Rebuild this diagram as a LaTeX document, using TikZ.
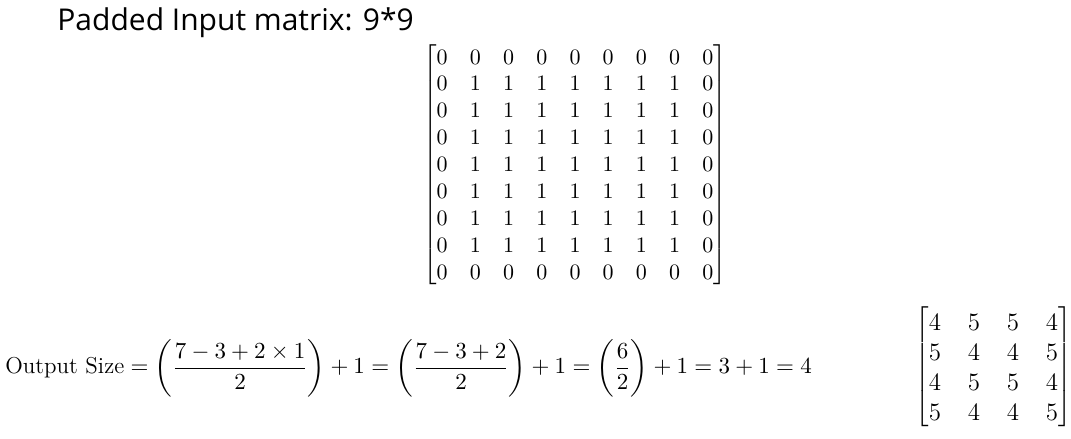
\RequirePackage{fix-cm}
\documentclass[tikz,border=0pt]{standalone}
\usepackage{amsmath}
\usepackage{fontspec}
\newfontfamily\titlefont{Open Sans}
\usetikzlibrary{matrix}

\begin{document}
\begin{tikzpicture}[x=0.5pt,y=-0.5pt,
		entry/.style={inner sep=0pt,text width=5.5pt,align=center,text height=7.1pt,text depth=0pt,font=\fontsize{11}{13}\selectfont},
		bigentry/.style={inner sep=0pt,text width=6.25pt,align=center,text height=8.05pt,text depth=0pt,font=\fontsize{12.5}{15}\selectfont},
		every left delimiter/.style={xshift=1.5pt},
		every right delimiter/.style={xshift=-1.5pt}]
		\useasboundingbox (0,0) rectangle (1071,439);
		\node[anchor=base west,inner sep=0pt,font=\titlefont\fontsize{15}{18}\selectfont] (title) at (57,30) {Padded Input matrix: 9*9};
		\matrix (padded) [matrix of math nodes,nodes={entry},column sep=11.1pt,row sep=6.35pt,
			inner xsep=0pt,inner ysep=2.4pt,left delimiter={[},right delimiter={]}] at (575,164.5) {
			0 & 0 & 0 & 0 & 0 & 0 & 0 & 0 & 0 \\
			0 & 1 & 1 & 1 & 1 & 1 & 1 & 1 & 0 \\
			0 & 1 & 1 & 1 & 1 & 1 & 1 & 1 & 0 \\
			0 & 1 & 1 & 1 & 1 & 1 & 1 & 1 & 0 \\
			0 & 1 & 1 & 1 & 1 & 1 & 1 & 1 & 0 \\
			0 & 1 & 1 & 1 & 1 & 1 & 1 & 1 & 0 \\
			0 & 1 & 1 & 1 & 1 & 1 & 1 & 1 & 0 \\
			0 & 1 & 1 & 1 & 1 & 1 & 1 & 1 & 0 \\
			0 & 0 & 0 & 0 & 0 & 0 & 0 & 0 & 0 \\
		};
		\node[anchor=west,inner sep=0pt,font=\fontsize{11.5}{14}\selectfont] (size) at (5,368) {$\text{Output Size} = \left(\dfrac{7-3+2\times 1}{2}\right) + 1 = \left(\dfrac{7-3+2}{2}\right) + 1 = \left(\dfrac{6}{2}\right) + 1 = 3 + 1 = 4$};
		\matrix (output) [matrix of math nodes,nodes={bigentry},column sep=13.25pt,row sep=6.95pt,
			inner xsep=0pt,inner ysep=3.5pt,left delimiter={[},right delimiter={]}] at (993.5,367) {
			4 & 5 & 5 & 4 \\
			5 & 4 & 4 & 5 \\
			4 & 5 & 5 & 4 \\
			5 & 4 & 4 & 5 \\
		};
	\end{tikzpicture}
\end{document}
